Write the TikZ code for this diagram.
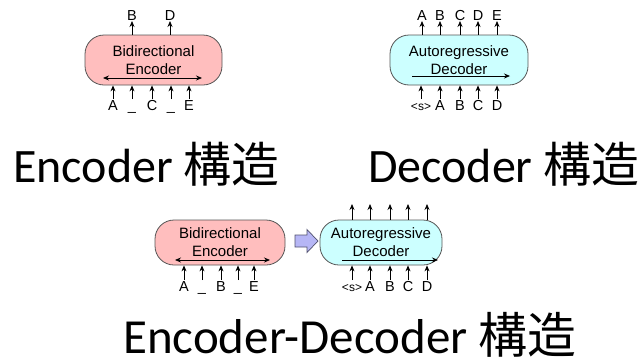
\documentclass[tikz,border=0pt]{standalone}
\usepackage{fontspec}
\setmainfont{Carlito}
\newfontfamily\arialf{Liberation Sans}
\newfontfamily\cjk{Noto Sans CJK JP}
\usetikzlibrary{arrows.meta}
\definecolor{encfill}{RGB}{255,190,190}
\definecolor{decfill}{RGB}{204,255,255}
\definecolor{boxline}{RGB}{85,85,85}
\definecolor{bafill}{RGB}{182,182,245}
\definecolor{baline}{RGB}{80,80,110}
\newcommand{\sostok}{{\fontsize{12}{13}\selectfont <s>}}
\begin{document}
\begin{tikzpicture}[x=1pt,y=-1pt,
  box/.style={draw=boxline, line width=0.8pt, rounded corners=19pt, align=center,
    font=\arialf\fontsize{15}{18}\selectfont, inner sep=0pt},
  arr/.style={line width=0.8pt, -{Stealth[length=6pt,width=5pt]}},
  darr/.style={line width=0.8pt, {Stealth[length=6pt,width=5pt]}-{Stealth[length=6pt,width=5pt]}},
  lbl/.style={font=\arialf\fontsize{14.5}{15}\selectfont, inner sep=0.5pt, text height=10.5pt, text depth=0pt},
  title/.style={font=\fontsize{48}{50}\selectfont, inner sep=0pt, anchor=base west, text depth=0pt}]
\useasboundingbox (0,0) rectangle (639,362);

% ---------- top-left: encoder ----------
\node[box, fill=encfill, minimum width=137pt, minimum height=50pt] (enc1) at (153.5,60) {Bidirectional\\Encoder};
\coordinate (e1l) at (103,78); \coordinate (e1r) at (202,78);
\draw[darr] (e1l) -- (e1r);
\foreach \x/\t/\n in {113/A/1,132/\_/2,152/C/3,171/\_/4,189/E/5}{
  \node[lbl, anchor=north] (ei\n) at (\x,99) {\t};
  \draw[arr] (ei\n.north) -- (ei\n.north |- enc1.south);
}
\foreach \x/\t/\n in {132/B/1,170/D/2}{
  \node[lbl, anchor=south] (eo\n) at (\x,21) {\t};
  \draw[arr] (eo\n.south |- enc1.north) -- (eo\n.south);
}
\node[title] (t1) at (13,182) {Encoder {\cjk 構造}};

% ---------- top-right: decoder ----------
\node[box, fill=decfill, minimum width=138pt, minimum height=50pt] (dec1) at (459,60) {Autoregressive\\Decoder};
\coordinate (d1l) at (412,76); \coordinate (d1r) at (510,76);
\draw[arr] (d1l) -- (d1r);
\foreach \x/\t/\n in {421/\sostok/1,440/A/2,460/B/3,478/C/4,497/D/5}{
  \node[lbl, anchor=north] (di\n) at (\x,99) {\t};
  \draw[arr] (di\n.north) -- (di\n.north |- dec1.south);
}
\foreach \x/\t/\n in {422/A/1,440/B/2,460/C/3,478/D/4,497/E/5}{
  \node[lbl, anchor=south] (do\n) at (\x,21) {\t};
  \draw[arr] (do\n.south |- dec1.north) -- (do\n.south);
}
\node[title] (t2) at (368,182) {Decoder {\cjk 構造}};

% ---------- bottom: encoder-decoder ----------
\node[box, fill=encfill, minimum width=130pt, minimum height=45pt] (enc2) at (220,242.5) {Bidirectional\\Encoder};
\coordinate (e2l) at (175,260); \coordinate (e2r) at (270,260);
\draw[darr] (e2l) -- (e2r);
\foreach \x/\t/\n in {184/A/1,202/\_/2,221/B/3,238/\_/4,254/E/5}{
  \node[lbl, anchor=north] (fi\n) at (\x,280) {\t};
  \draw[arr] (fi\n.north) -- (fi\n.north |- enc2.south);
}
\node[box, fill=decfill, minimum width=122pt, minimum height=45pt] (dec2) at (381,242.5) {Autoregressive\\Decoder};
\coordinate (d2l) at (342,260); \coordinate (d2r) at (438,260);
\draw[arr] (d2l) -- (d2r);
\foreach \x/\t/\n in {352/\sostok/1,370/A/2,390/B/3,408/C/4,427/D/5}{
  \node[lbl, anchor=north] (gi\n) at (\x,280) {\t};
  \draw[arr] (gi\n.north) -- (gi\n.north |- dec2.south);
  \coordinate (go\n) at (\x,204);
  \draw[arr] (go\n |- dec2.north) -- (go\n);
}
% block arrow
\draw[draw=baline, fill=bafill, line width=0.7pt, line join=miter]
  (295,235) -- (307,235) -- (307,229.5) -- (318,241) -- (307,252.5) -- (307,247) -- (295,247) -- cycle;
\node[title, font=\fontsize{49}{50}\selectfont] (t3) at (123,353) {Encoder-Decoder {\cjk 構造}};
\end{tikzpicture}
\end{document}
